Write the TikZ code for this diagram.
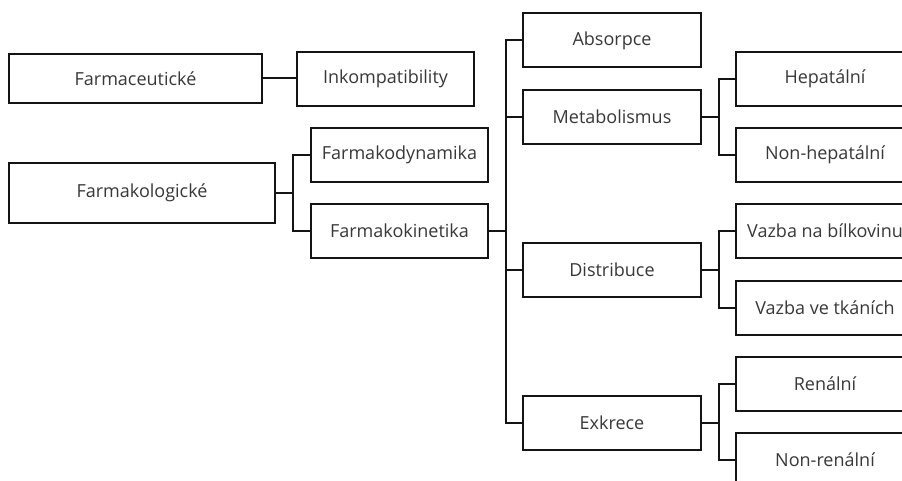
\documentclass[tikz,border=0pt]{standalone}
\usepackage{fontspec}
\setmainfont{Open Sans}
\definecolor{txt}{HTML}{383838}
\definecolor{ln}{HTML}{141414}
\tikzset{
  box/.style={draw=ln, line width=2pt, rectangle, minimum width=178pt, minimum height=54pt,
    inner sep=0pt, text=txt, font=\fontsize{18}{21}\selectfont},
  link/.style={draw=ln, line width=2pt},
}
\begin{document}
\begin{tikzpicture}[x=1pt,y=-1pt]
\useasboundingbox (0,0) rectangle (902,481);
\fill[white] (0,0) rectangle (902,481);
\clip (0,0) rectangle (902,481);

% first level
\node[box, minimum width=253pt, minimum height=49pt] (farmaceut) at (135.5,78.5) {Farmaceutické};
\node[box, minimum width=266pt, minimum height=60pt] (farmakol) at (142,193) {Farmakologické};

% second level
\node[box, minimum width=177pt] (inkomp) at (385.5,79) {Inkompatibility};
\node[box, minimum width=177pt] (fdyn) at (399.5,155) {Farmakodynamika};
\node[box, minimum width=177pt] (fkin) at (399.5,231) {Farmakokinetika};

% pharmacokinetic processes
\node[box] (absorpce) at (612,40.5) {Absorpce};
\node[box] (metabol) at (612,117) {Metabolismus};
\node[box] (distrib) at (612,269.5) {Distribuce};
\node[box] (exkrece) at (612,422.5) {Exkrece};

% details
\node[box] (hepat) at (825,79) {Hepatální};
\node[box] (nonhep) at (825,155) {Non-hepatální};
\node[box] (vazbab) at (825,231) {Vazba na bílkovinu};
\node[box] (vazbat) at (825,307.5) {Vazba ve tkáních};
\node[box] (renal) at (825,384) {Renální};
\node[box] (nonren) at (825,460) {Non-renální};

% connectors
\draw[link] (farmaceut.east) -- (farmaceut.east -| inkomp.west);
\foreach \p/\c in {farmakol/fdyn, farmakol/fkin,
                   fkin/absorpce, fkin/metabol, fkin/distrib, fkin/exkrece,
                   metabol/hepat, metabol/nonhep,
                   distrib/vazbab, distrib/vazbat,
                   exkrece/renal, exkrece/nonren}
  \draw[link] (\p.east) -- ++(17,0) |- (\c.west);
\end{tikzpicture}
\end{document}
